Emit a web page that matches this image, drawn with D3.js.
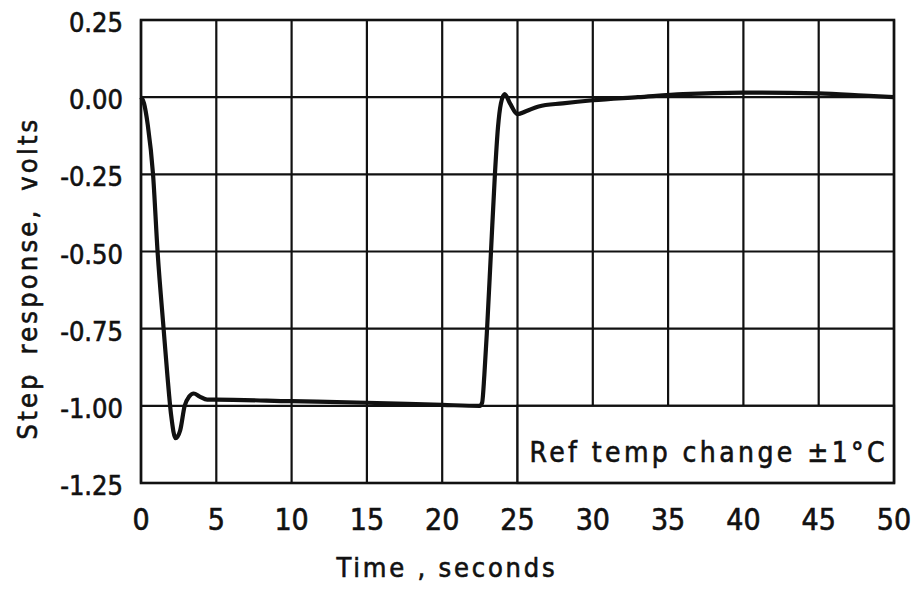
<!DOCTYPE html>
<html>
<head>
<meta charset="utf-8">
<script src="https://cdn.jsdelivr.net/npm/d3@7"></script>
<style>
  body { margin: 0; background: #fff; }
  svg { display: block; }
  .lbl { font-family: "DejaVu Sans Condensed", "DejaVu Sans", sans-serif; fill: #111; stroke: #111; stroke-width: 0.6px; }
</style>
</head>
<body>
<div class="visHolder"></div>
<script>
// step response (seconds, volts)
const times = [0, 0.2, 0.45, 0.8, 1.1, 1.5, 1.75, 2.0, 2.3, 2.6, 2.9, 3.2, 3.5, 3.9, 4.4,
  5, 10, 15, 20, 22.5, 22.65, 22.8, 22.98, 23.24, 23.5, 23.7, 23.9, 24.15, 24.5, 25.0,
  25.6, 26.4, 28, 30, 33, 36, 40, 45, 48, 50]
const volts = [0, -0.02, -0.09, -0.25, -0.5, -0.75, -0.9, -1.03, -1.105, -1.08, -1.0, -0.97, -0.96, -0.97, -0.98,
  -0.98, -0.985, -0.99, -0.997, -1.0, -0.99, -0.9, -0.75, -0.5, -0.25, -0.1, -0.02, 0.01, -0.02, -0.055,
  -0.045, -0.03, -0.02, -0.01, 0.0, 0.01, 0.015, 0.012, 0.005, 0]

const xTicks = [0, 5, 10, 15, 20, 25, 30, 35, 40, 45, 50]
const yTicks = [0.25, 0, -0.25, -0.5, -0.75, -1.0, -1.25]
const legendSpan = [25, 50]
const legendRange = [-1.25, -1.0]
const legendText = 'Ref temp change \u00b11\u00b0C'

const width = 917
const height = 591
const plotLeft = 141
const plotRight = 894
const plotTop = 20
const plotBottom = 483

const svg = d3.select('.visHolder')
  .append('svg')
  .attr('width', width)
  .attr('height', height)

const x = d3.scaleLinear().domain([0, 50]).range([plotLeft, plotRight])
const y = d3.scaleLinear().domain([-1.25, 0.25]).range([plotBottom, plotTop])

// grid
svg.append('g')
  .selectAll('line')
  .data(xTicks)
  .enter()
  .append('line')
  .attr('x1', d => x(d)).attr('x2', d => x(d))
  .attr('y1', plotTop).attr('y2', plotBottom)
  .attr('stroke', '#111').attr('stroke-width', 2.2)

svg.append('g')
  .selectAll('line')
  .data(yTicks)
  .enter()
  .append('line')
  .attr('y1', d => y(d)).attr('y2', d => y(d))
  .attr('x1', plotLeft).attr('x2', plotRight)
  .attr('stroke', '#111').attr('stroke-width', 2.2)

// legend cell blanks out the grid behind it
svg.append('rect')
  .attr('x', x(legendSpan[0]))
  .attr('y', y(legendRange[1]))
  .attr('width', x(legendSpan[1]) - x(legendSpan[0]))
  .attr('height', y(legendRange[0]) - y(legendRange[1]))
  .attr('fill', '#fff')
  .attr('stroke', '#111')
  .attr('stroke-width', 2.2)

svg.append('text')
  .attr('class', 'lbl')
  .attr('x', x(legendSpan[0]) + 12)
  .attr('y', 462)
  .attr('font-size', 28)
  .attr('letter-spacing', 3.4)
  .text(legendText)

// frame
svg.append('rect')
  .attr('x', plotLeft).attr('y', plotTop)
  .attr('width', plotRight - plotLeft).attr('height', plotBottom - plotTop)
  .attr('fill', 'none')
  .attr('stroke', '#111')
  .attr('stroke-width', 2.6)

// tick labels
svg.append('g')
  .selectAll('text')
  .data(yTicks)
  .enter()
  .append('text')
  .attr('class', 'lbl')
  .attr('x', 123)
  .attr('y', d => y(d) + 12)
  .attr('text-anchor', 'end')
  .attr('font-size', 27)
  .text(d => d3.format('.2f')(d).replace('\u2212', '-'))

svg.append('g')
  .selectAll('text')
  .data(xTicks)
  .enter()
  .append('text')
  .attr('class', 'lbl')
  .attr('x', d => x(d))
  .attr('y', 530)
  .attr('text-anchor', 'middle')
  .attr('font-size', 30)
  .text(d => d)

// axis titles
svg.append('text')
  .attr('class', 'lbl')
  .attr('x', 447)
  .attr('y', 577)
  .attr('text-anchor', 'middle')
  .attr('font-size', 27)
  .attr('letter-spacing', 2.8)
  .text('Time , seconds')

svg.append('text')
  .attr('class', 'lbl')
  .attr('transform', 'translate(37, 278) rotate(-90)')
  .attr('text-anchor', 'middle')
  .attr('font-size', 27)
  .attr('letter-spacing', 3.2)
  .attr('word-spacing', 6)
  .text('Step response, volts')

// response curve
const line = d3.line()
  .x((d, i) => x(times[i]))
  .y(d => y(d))
  .curve(d3.curveMonotoneX)

svg.append('path')
  .datum(volts)
  .attr('d', line)
  .attr('fill', 'none')
  .attr('stroke', '#111')
  .attr('stroke-width', 4.2)
  .attr('stroke-linejoin', 'round')
</script>
</body>
</html>
